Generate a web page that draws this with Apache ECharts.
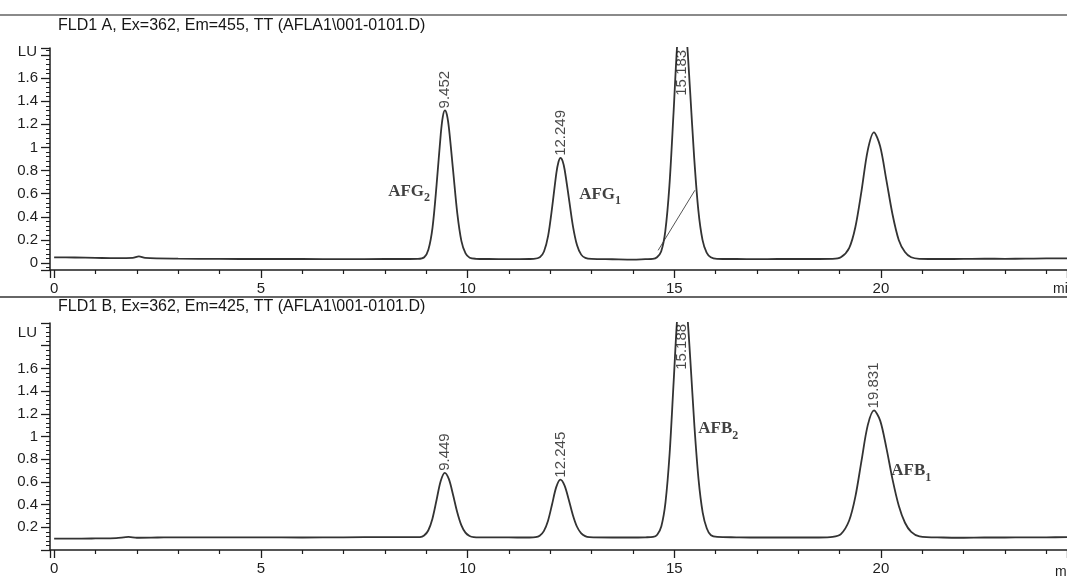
<!DOCTYPE html>
<html>
<head>
<meta charset="utf-8">
<script src="https://cdn.jsdelivr.net/npm/echarts@6/dist/echarts.min.js"></script>
<style>
html,body{margin:0;padding:0;background:#fff;}
#chart{width:1067px;height:576px;}
</style>
</head>
<body>
<div id="chart"></div>
<script>
// ---- Data ----
const titleA = 'FLD1 A, Ex=362, Em=455, TT (AFLA1\\001-0101.D)';
const titleB = 'FLD1 B, Ex=362, Em=425, TT (AFLA1\\001-0101.D)';
const xTickLabels = [0, 5, 10, 15, 20];
const yTickLabels = [0, 0.2, 0.4, 0.6, 0.8, 1, 1.2, 1.4, 1.6];

// Channel A trace: [time (min), signal (LU)]
const traceA = [
  [0,0.05],[0.5,0.048],[1.0,0.045],[1.5,0.042],[1.9,0.044],[2.05,0.058],[2.2,0.045],[3,0.038],[4,0.036],[5,0.035],[6,0.035],[7,0.034],[8,0.035],[8.6,0.035],
  [8.8,0.036],[8.952,0.05],[9.052,0.115],[9.152,0.305],[9.252,0.68],[9.352,1.115],[9.402,1.267],[9.452,1.32],[9.502,1.28],[9.552,1.16],[9.652,0.795],[9.752,0.43],[9.852,0.19],[9.952,0.083],[10.052,0.046],[10.2,0.037],
  [10.5,0.035],[11,0.034],[11.5,0.035],
  [11.6,0.036],[11.749,0.05],[11.849,0.10],[11.949,0.235],[12.049,0.49],[12.149,0.78],[12.199,0.875],[12.249,0.91],[12.299,0.883],[12.349,0.807],[12.449,0.566],[12.549,0.32],[12.649,0.153],[12.749,0.073],[12.849,0.045],[13.0,0.036],
  [13.5,0.033],[14.0,0.03],[14.3,0.034],
  [14.483,0.036],[14.583,0.05],[14.683,0.10],[14.783,0.275],[14.883,0.67],[14.983,1.30],[15.083,1.95],[15.183,2.235],[15.283,2.02],[15.383,1.49],[15.483,0.905],[15.583,0.455],[15.683,0.20],[15.783,0.09],[15.883,0.05],[16.033,0.037],
  [16.5,0.035],[17,0.034],[17.5,0.035],[18,0.035],[18.5,0.035],
  [18.83,0.036],[19.03,0.05],[19.23,0.13],[19.38,0.31],[19.53,0.625],[19.68,0.975],[19.83,1.13],[19.98,1.01],[20.13,0.72],[20.28,0.42],[20.43,0.20],[20.58,0.095],[20.73,0.05],[20.93,0.037],
  [21.5,0.035],[22,0.036],[22.5,0.038],[23,0.037],[23.5,0.038],[24,0.04],[24.5,0.04]
];
// Integration baseline drawn under the third peak of channel A
const baselineA = [[14.61,0.11],[15.50,0.63]];

// Channel B trace
const traceB = [
  [0,0.10],[0.5,0.10],[1,0.102],[1.5,0.105],[1.8,0.115],[2,0.108],[2.5,0.11],[3,0.112],[4,0.112],[5,0.112],[6,0.11],[7,0.112],[8,0.113],[8.7,0.113],
  [8.849,0.114],[8.949,0.128],[9.049,0.172],[9.149,0.274],[9.249,0.438],[9.349,0.606],[9.449,0.68],[9.549,0.624],[9.649,0.487],[9.749,0.335],[9.849,0.219],[9.949,0.153],[10.049,0.124],[10.149,0.114],[10.3,0.112],
  [10.8,0.112],[11.2,0.11],[11.5,0.11],
  [11.645,0.113],[11.745,0.126],[11.845,0.166],[11.945,0.256],[12.045,0.403],[12.145,0.554],[12.245,0.62],[12.345,0.57],[12.445,0.448],[12.545,0.311],[12.645,0.207],[12.745,0.149],[12.845,0.122],[12.945,0.113],
  [13.5,0.11],[14,0.11],[14.3,0.112],
  [14.488,0.115],[14.588,0.135],[14.688,0.21],[14.788,0.42],[14.888,0.85],[14.988,1.50],[15.088,2.13],[15.188,2.40],[15.288,2.19],[15.388,1.68],[15.488,1.09],[15.588,0.62],[15.688,0.33],[15.788,0.19],[15.888,0.13],[16.038,0.115],
  [16.5,0.112],[17,0.11],[17.5,0.11],[18,0.11],[18.5,0.11],
  [18.831,0.115],[19.031,0.14],[19.231,0.26],[19.381,0.47],[19.531,0.79],[19.681,1.10],[19.831,1.23],[19.981,1.14],[20.131,0.90],[20.281,0.62],[20.431,0.39],[20.581,0.24],[20.731,0.16],[20.931,0.12],
  [21.5,0.11],[22,0.108],[22.5,0.11],[23,0.11],[23.5,0.112],[24,0.112],[24.5,0.113]
];

// Retention-time labels: time and apex height
const peakTimesA = [9.452, 12.249, 15.183];
const peakHeightsA = [1.32, 0.91, 2.235];
const peakTimesB = [9.449, 12.245, 15.188, 19.831];
const peakHeightsB = [0.68, 0.62, 2.40, 1.23];

// Compound names
const compoundsA = [['AFG','2'],['AFG','1']];
const compoundAnchorsA = [[8.08,0.63],[12.70,0.605]];
const compoundsB = [['AFB','2'],['AFB','1']];
const compoundAnchorsB = [[15.58,1.08],[20.25,0.71]];

// ---- Chart ----
const ranges = [
  {ymin:-0.06, ymax:1.86, nameGap:-4},
  {ymin:0, ymax:2.0, nameGap:-10}
];
const SANS = 'Liberation Sans, Arial, sans-serif';
const INK = '#1e1e1e';

function xAxisFor(i){
  return {
    type:'value', gridIndex:i, min:-0.1, max:24.5, minInterval:5, maxInterval:5,
    axisLine:{show:true, onZero:false, lineStyle:{color:INK, width:1.5}},
    axisTick:{show:true, length:8, lineStyle:{color:INK, width:1.3}},
    minorTick:{show:true, splitNumber:5, length:4, lineStyle:{color:INK, width:1.2}},
    splitLine:{show:false},
    axisLabel:{show:true, margin:11, fontFamily:SANS, fontSize:15, color:INK,
      showMinLabel:false, showMaxLabel:false,
      formatter:v => (xTickLabels.some(t => Math.abs(t - v) < 1e-6) ? String(Math.round(v)) : '')}
  };
}
function yAxisFor(i){
  const r = ranges[i];
  return {
    type:'value', gridIndex:i, min:r.ymin, max:r.ymax, minInterval:0.2, maxInterval:0.2,
    name:'LU', nameLocation:'end', nameGap:r.nameGap,
    nameTextStyle:{fontFamily:SANS, fontSize:15, color:INK, align:'right', verticalAlign:'middle', padding:[0,13,0,0]},
    axisLine:{show:true, onZero:false, lineStyle:{color:INK, width:1.5}},
    axisTick:{show:true, length:9, lineStyle:{color:INK, width:1.3}},
    minorTick:{show:true, splitNumber:5, length:4, lineStyle:{color:INK, width:1}},
    splitLine:{show:false},
    axisLabel:{show:true, margin:12, fontFamily:SANS, fontSize:15, color:INK,
      showMinLabel: i === 0,
      formatter:v => {
        const hit = yTickLabels.find(t => Math.abs(t - v) < 1e-6);
        if (hit === undefined) return '';
        if (i === 1 && hit === 0) return '';
        return String(hit);
      }}
  };
}

function traceSeries(i, data){
  return {type:'line', xAxisIndex:i, yAxisIndex:i, data:data, showSymbol:false, smooth:0.3,
    lineStyle:{color:'#333', width:1.8}, clip:true, silent:true, z:3};
}
function peakLabelSeries(i, times, heights){
  const cap = ranges[i].ymax - 0.43;
  return {type:'scatter', xAxisIndex:i, yAxisIndex:i, symbolSize:0, silent:true, z:5,
    data: times.map((t, k) => ({value:[t, Math.min(heights[k], cap)], name:t.toFixed(3)})),
    label:{show:true, position:'top', distance:2, rotate:90, align:'left', verticalAlign:'middle',
      fontFamily:SANS, fontSize:15, color:'#1a1a1a', formatter:p => p.name}};
}
function compoundSeries(i, names, anchors){
  return {type:'scatter', xAxisIndex:i, yAxisIndex:i, symbolSize:0, silent:true, z:6,
    data: names.map((n, k) => ({value:anchors[k], name:'{m|' + n[0] + '}{s|' + n[1] + '}'})),
    label:{show:true, position:'right', distance:0, formatter:p => p.name,
      rich:{
        m:{fontFamily:'Liberation Serif, serif', fontSize:17, fontWeight:'bold', color:'#111', verticalAlign:'bottom', lineHeight:20},
        s:{fontFamily:'Liberation Serif, serif', fontSize:12, fontWeight:'bold', color:'#111', verticalAlign:'bottom', lineHeight:12, padding:[0,0,-4,0]}
      }}};
}

const chart = echarts.init(document.getElementById('chart'), null, {renderer:'canvas'});
chart.setOption({
  animation:false,
  backgroundColor:'#ffffff',
  title:[
    {text:titleA, left:58, top:18, textStyle:{fontFamily:SANS, fontSize:16, fontWeight:'normal', color:'#151515'}, padding:0},
    {text:titleB, left:58, top:299, textStyle:{fontFamily:SANS, fontSize:16, fontWeight:'normal', color:'#151515'}, padding:0}
  ],
  graphic:[
    {type:'rect', shape:{x:0, y:14, width:1067, height:2}, style:{fill:'#8a8a8a'}, silent:true},
    {type:'rect', shape:{x:0, y:296, width:1067, height:2}, style:{fill:'#666'}, silent:true},
    {type:'text', left:1053, top:282, style:{text:'min', font:'14px ' + SANS, fill:INK}, silent:true},
    {type:'text', left:1055, top:565, style:{text:'min', font:'14px ' + SANS, fill:INK}, silent:true}
  ],
  grid:[
    {left:50, right:0, top:48, height:222, containLabel:false},
    {left:50, right:0, top:323, height:232, containLabel:false}
  ],
  xAxis:[xAxisFor(0), xAxisFor(1)],
  yAxis:[yAxisFor(0), yAxisFor(1)],
  series:[
    traceSeries(0, traceA),
    {type:'line', xAxisIndex:0, yAxisIndex:0, data:baselineA, showSymbol:false,
      lineStyle:{color:'#555', width:1}, silent:true, z:2},
    traceSeries(1, traceB),
    peakLabelSeries(0, peakTimesA, peakHeightsA),
    peakLabelSeries(1, peakTimesB, peakHeightsB),
    compoundSeries(0, compoundsA, compoundAnchorsA),
    compoundSeries(1, compoundsB, compoundAnchorsB)
  ]
});
</script>
</body>
</html>
